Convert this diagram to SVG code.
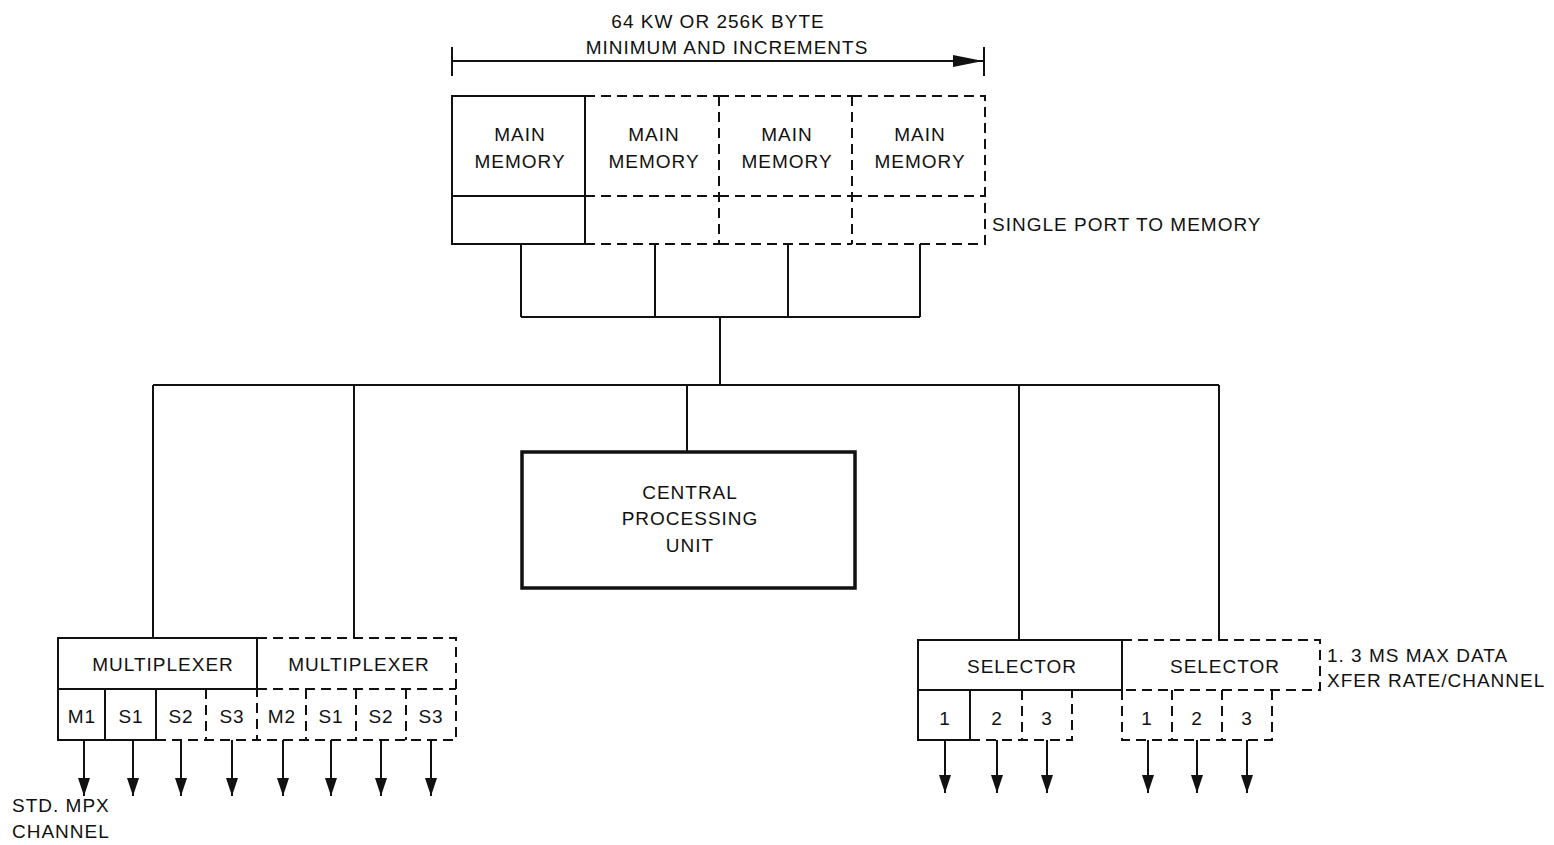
<svg xmlns="http://www.w3.org/2000/svg" width="1554" height="845" viewBox="0 0 1554 845">
<style>
.s{fill:none;stroke:#111;stroke-width:2}
.d{fill:none;stroke:#111;stroke-width:2;stroke-dasharray:10 6}
.t{font-family:"Liberation Sans",Arial,sans-serif;font-size:19px;letter-spacing:1px;fill:#111;text-anchor:middle}
.l{font-family:"Liberation Sans",Arial,sans-serif;font-size:19px;letter-spacing:1px;fill:#111}
.w{fill:none;stroke:#111;stroke-width:2}
</style>
<defs>
<marker id="ah" markerWidth="18" markerHeight="12" refX="18" refY="6" orient="auto" markerUnits="userSpaceOnUse" viewBox="0 0 18 12">
<path d="M0,0 L18,6 L0,12 Z" fill="#111"/>
</marker>
<marker id="ahr" markerWidth="30" markerHeight="14" refX="30" refY="7" orient="auto" markerUnits="userSpaceOnUse" viewBox="0 0 30 14">
<path d="M0,1 L30,7 L0,13 Z" fill="#111"/>
</marker>
</defs>
<rect width="1554" height="845" fill="#fff"/>

<g id="dimension">
<text class="t" x="718" y="28">64 KW OR 256K BYTE</text>
<text class="t" x="727" y="54">MINIMUM AND INCREMENTS</text>
<line class="s" x1="452" y1="47" x2="452" y2="76"/>
<line class="s" x1="984" y1="47" x2="984" y2="76"/>
<line class="s" x1="452" y1="61" x2="983" y2="61" marker-end="url(#ahr)"/>
</g>

<g id="mem1">
<rect class="s" x="452" y="96" width="133" height="148"/>
<line class="s" x1="452" y1="196" x2="585" y2="196"/>
<text class="t" x="520" y="141">MAIN</text>
<text class="t" x="520" y="168">MEMORY</text>
</g>
<g id="mem2">
<path class="d" d="M585,96 H719 M585,244 H719 M585,196 H719"/>
<text class="t" x="654" y="141">MAIN</text>
<text class="t" x="654" y="168">MEMORY</text>
</g>
<g id="mem3">
<path class="d" d="M719,96 H852 M719,244 H852 M719,196 H852 M719,96 V244"/>
<text class="t" x="787" y="141">MAIN</text>
<text class="t" x="787" y="168">MEMORY</text>
</g>
<g id="mem4">
<path class="d" d="M852,96 H985 V244 H852 M852,196 H985 M852,96 V244"/>
<text class="t" x="920" y="141">MAIN</text>
<text class="t" x="920" y="168">MEMORY</text>
</g>
<text id="port-label" class="l" x="992" y="231">SINGLE PORT TO MEMORY</text>

<g id="cpu">
<rect x="522" y="452" width="333" height="136" fill="none" stroke="#111" stroke-width="3.5"/>
<text class="t" x="690" y="499">CENTRAL</text>
<text class="t" x="690" y="525">PROCESSING</text>
<text class="t" x="690" y="552">UNIT</text>
</g>

<g id="mpx1">
<rect class="s" x="58" y="638" width="199" height="51"/>
<text class="t" x="163" y="671">MULTIPLEXER</text>
<path class="s" d="M58,689 V740 H156 V689 M105,689 V740"/>
<path class="d" d="M156,740 H257 V689 M206,689 V740"/>
<text class="t" x="82" y="723">M1</text>
<text class="t" x="131" y="723">S1</text>
<text class="t" x="181" y="723">S2</text>
<text class="t" x="232" y="723">S3</text>
</g>
<g id="mpx2">
<path class="d" d="M257,638 H456 V740 H257 M257,689 H456 M306,689 V740 M356,689 V740 M406,689 V740"/>
<text class="t" x="359" y="671">MULTIPLEXER</text>
<text class="t" x="282" y="723">M2</text>
<text class="t" x="331" y="723">S1</text>
<text class="t" x="381" y="723">S2</text>
<text class="t" x="431" y="723">S3</text>
</g>
<g id="std-label">
<text class="l" x="12" y="812">STD. MPX</text>
<text class="l" x="12" y="838">CHANNEL</text>
</g>

<g id="sel1">
<rect class="s" x="918" y="640" width="204" height="50"/>
<text class="t" x="1022" y="673">SELECTOR</text>
<path class="s" d="M918,690 V740 H970 V690"/>
<path class="d" d="M970,740 H1072 V690 M1022,690 V740"/>
<text class="t" x="945" y="725">1</text>
<text class="t" x="997" y="725">2</text>
<text class="t" x="1047" y="725">3</text>
</g>
<g id="sel2">
<path class="d" d="M1122,640 H1320 V690 H1122 M1122,690 V740 H1272 V690 M1172,690 V740 M1222,690 V740"/>
<text class="t" x="1225" y="673">SELECTOR</text>
<text class="t" x="1147" y="725">1</text>
<text class="t" x="1197" y="725">2</text>
<text class="t" x="1247" y="725">3</text>
</g>
<g id="rate-label">
<text class="l" x="1327" y="662">1. 3 MS MAX DATA</text>
<text class="l" x="1327" y="687">XFER RATE/CHANNEL</text>
</g>

<g id="connectors">
<path class="w" d="M521,244 V317 M655,244 V317 M788,244 V317 M920,244 V317 M521,317 H920 M720,317 V385 M153,385 H1219 M153,385 V638 M354,385 V638 M687,385 V452 M1019,385 V640 M1219,385 V640"/>
<g>
<line class="s" x1="84" y1="740" x2="84" y2="796" marker-end="url(#ah)"/>
<line class="s" x1="133" y1="740" x2="133" y2="796" marker-end="url(#ah)"/>
<line class="s" x1="181" y1="740" x2="181" y2="796" marker-end="url(#ah)"/>
<line class="s" x1="232" y1="740" x2="232" y2="796" marker-end="url(#ah)"/>
<line class="s" x1="283" y1="740" x2="283" y2="796" marker-end="url(#ah)"/>
<line class="s" x1="331" y1="740" x2="331" y2="796" marker-end="url(#ah)"/>
<line class="s" x1="381" y1="740" x2="381" y2="796" marker-end="url(#ah)"/>
<line class="s" x1="431" y1="740" x2="431" y2="796" marker-end="url(#ah)"/>
<line class="s" x1="945" y1="740" x2="945" y2="793" marker-end="url(#ah)"/>
<line class="s" x1="997" y1="740" x2="997" y2="793" marker-end="url(#ah)"/>
<line class="s" x1="1047" y1="740" x2="1047" y2="793" marker-end="url(#ah)"/>
<line class="s" x1="1148" y1="740" x2="1148" y2="793" marker-end="url(#ah)"/>
<line class="s" x1="1197" y1="740" x2="1197" y2="793" marker-end="url(#ah)"/>
<line class="s" x1="1247" y1="740" x2="1247" y2="793" marker-end="url(#ah)"/>
</g>
</g>
</svg>
